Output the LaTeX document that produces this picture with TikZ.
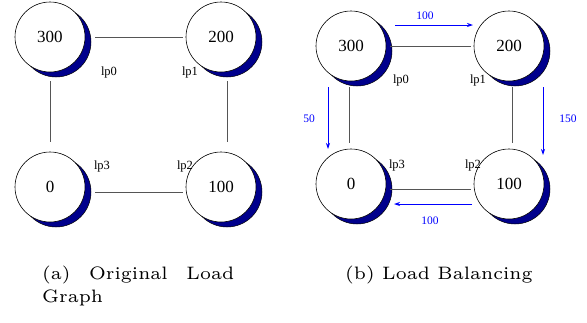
\documentclass[tikz,border=0pt]{standalone}
\usepackage{fontspec}
\newfontfamily\timesfont{Liberation Serif}
\newfontfamily\capfont{lmroman6-regular}[Extension=.otf]
\usetikzlibrary{arrows.meta}
\definecolor{shadowblue}{RGB}{0,0,140}
\definecolor{linegray}{RGB}{85,85,85}
\tikzset{
  pe/.style={circle, draw=black, fill=white, minimum size=70pt, inner sep=0pt,
    font=\timesfont\fontsize{17}{17}\selectfont, line width=0.6pt},
  peshadow/.style={circle, draw=black, fill=shadowblue, minimum size=70pt, inner sep=0pt, line width=0.5pt},
  lp/.style={font=\timesfont\fontsize{12.5}{12.5}\selectfont, inner sep=0pt},
  link/.style={draw=linegray, line width=0.8pt},
  flow/.style={draw=blue, line width=0.8pt, -{Stealth[length=6pt,width=4pt]}},
  flowlab/.style={text=blue, font=\timesfont\fontsize{11.5}{11.5}\selectfont, inner sep=0pt},
  captxt/.style={font=\capfont\fontsize{18}{23}\selectfont, inner sep=0pt, anchor=base west}
}
\begin{document}
\begin{tikzpicture}[x=1pt,y=-1pt]
\useasboundingbox (0,0) rectangle (587,322);
% ---- (a) ----
\foreach \n/\x/\y in {sa300/50/37, sa200/221/37, sa0/50/187, sa100/221/187}{
  \node[peshadow] (\n) at (\x+6,\y+5) {};
}
\node[pe] (a300) at (50,37) {300};
\node[pe] (a200) at (221,37) {200};
\node[pe] (a0) at (50,187) {0};
\node[pe] (a100) at (221,187) {100};
\coordinate (at1) at (95,37); \coordinate (at2) at (183,37);
\coordinate (al1) at (50,81); \coordinate (al2) at (50,142);
\coordinate (ar1) at (227,81); \coordinate (ar2) at (227,142);
\coordinate (ab1) at (95,192); \coordinate (ab2) at (183,192);
\draw[link] (at1) -- (at2);
\draw[link] (al1) -- (al2);
\draw[link] (ar1) -- (ar2);
\draw[link] (ab1) -- (ab2);
\node[lp] (alp0) at (109,72) {lp0};
\node[lp] (alp1) at (190,72) {lp1};
\node[lp] (alp3) at (102,166) {lp3};
\node[lp] (alp2) at (185,166) {lp2};
% ---- (b) ----
\foreach \n/\x/\y in {sb300/351/46, sb200/509/46, sb0/351/184, sb100/509/184}{
  \node[peshadow] (\n) at (\x+6,\y+5) {};
}
\node[pe] (b300) at (351,46) {300};
\node[pe] (b200) at (509,46) {200};
\node[pe] (b0) at (351,184) {0};
\node[pe] (b100) at (509,184) {100};
\coordinate (bt1) at (390,46); \coordinate (bt2) at (471,46);
\coordinate (bl1) at (349,87); \coordinate (bl2) at (349,143);
\coordinate (br1) at (512,87); \coordinate (br2) at (512,143);
\coordinate (bb1) at (390,189); \coordinate (bb2) at (471,189);
\draw[link] (bt1) -- (bt2);
\draw[link] (bl1) -- (bl2);
\draw[link] (br1) -- (br2);
\draw[link] (bb1) -- (bb2);
\node[lp] (blp0) at (401,80) {lp0};
\node[lp] (blp1) at (478,80) {lp1};
\node[lp] (blp3) at (397,165) {lp3};
\node[lp] (blp2) at (473,165) {lp2};
% flows
\coordinate (ft1) at (395,25); \coordinate (ft2) at (473,25);
\coordinate (fl1) at (328,87); \coordinate (fl2) at (328,149);
\coordinate (fr1) at (543,87); \coordinate (fr2) at (543,155);
\coordinate (fb1) at (472,204); \coordinate (fb2) at (394,204);
\draw[flow] (ft1) -- (ft2);
\draw[flow] (fl1) -- (fl2);
\draw[flow] (fr1) -- (fr2);
\draw[flow] (fb1) -- (fb2);
\node[flowlab] (ftl) at (425,16) {100};
\node[flowlab] (fll) at (309,119) {50};
\node[flowlab] (frl) at (568,119) {150};
\node[flowlab] (fbl) at (430,221) {100};
% captions
\node[captxt] (capa) at (42,279) {\parbox[t]{192pt}{(a) Original Load\linebreak Graph}};
\node[captxt] (capb) at (345,279) {(b) Load Balancing};
\end{tikzpicture}
\end{document}
